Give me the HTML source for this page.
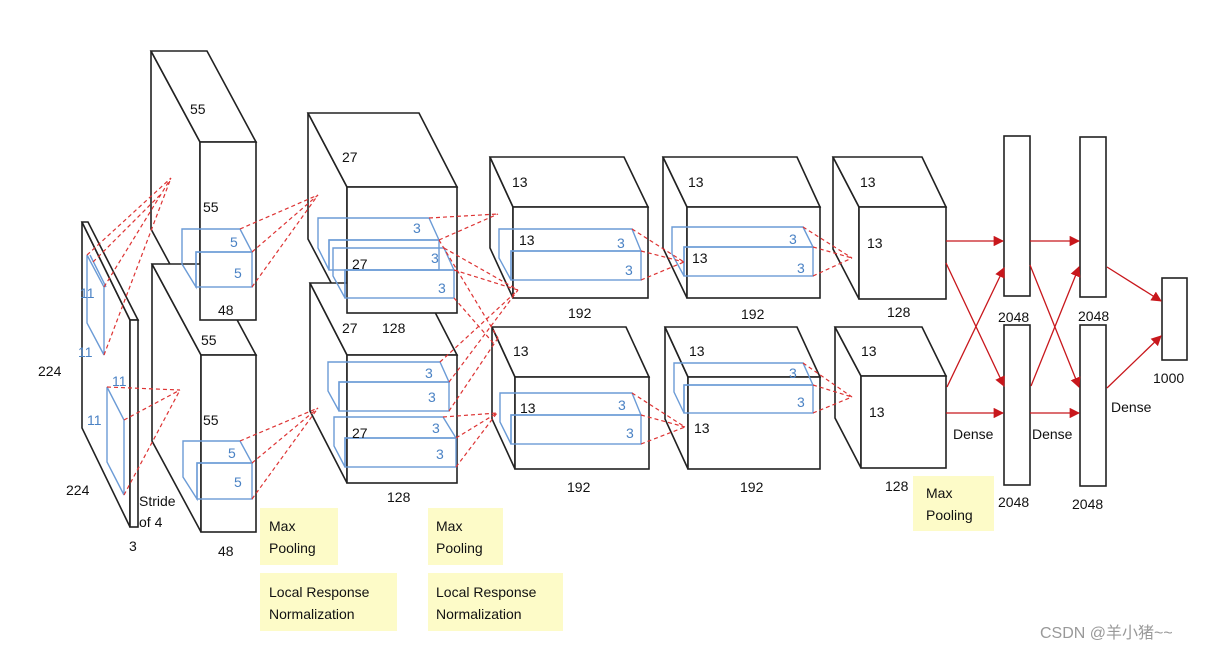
<!DOCTYPE html>
<html><head><meta charset="utf-8"><style>
html,body{margin:0;padding:0;background:#fff;}
svg{display:block;}
text{font-family:"Liberation Sans",sans-serif;font-size:14px;fill:#111;}
.b{fill:#4a82c4;}
.f{fill:#fff;stroke:#222;stroke-width:1.6;}
.k{fill:none;stroke:#6b9bd6;stroke-width:1.4;}
.r{stroke:#d33;stroke-width:1.2;stroke-dasharray:4,3;fill:none;}
.a{stroke:#c8171c;stroke-width:1.3;fill:none;marker-end:url(#ar);}
.y{fill:#fdfbc8;}
</style></head><body>
<svg width="1231" height="651" viewBox="0 0 1231 651" xmlns="http://www.w3.org/2000/svg">
<defs><marker id="ar" viewBox="0 0 10 10" refX="9" refY="5" markerWidth="8" markerHeight="8" orient="auto"><path d="M0,0 L10,5 L0,10 z" fill="#c8171c"/></marker></defs>

<!-- input slab -->
<polygon class="f" points="82,222 130,320 130,527 82,428"/>
<polygon class="f" points="82,222 88,222 138,320 130,320"/>
<rect class="f" x="130" y="320" width="8" height="207"/>
<!-- input kernels -->
<polygon class="k" points="87,255 104,287 104,355 87,323"/>
<line class="k" x1="90" y1="255" x2="106" y2="287"/>
<polygon class="k" points="107,387 124,420 124,495 107,462"/>
<text class="b" x="80" y="298">11</text><text class="b" x="78" y="357">11</text>
<text class="b" x="112" y="386">11</text><text class="b" x="87" y="425">11</text>

<!-- conv1 -->
<polygon class="f" points="151,51 200,142 200,320 151,229"/>
<polygon class="f" points="151,51 207,51 256,142 200,142"/>
<polygon class="f" points="152,264 201,355 201,532 152,441"/>
<polygon class="f" points="152,264 207,264 256,355 201,355"/>
<rect class="f" x="200" y="142" width="56" height="178"/>
<rect class="f" x="201" y="355" width="55" height="177"/>
<polygon class="k" points="182,229 240,229 252,252 196,252 196,287 182,264"/>
<rect class="k" x="196" y="252" width="56" height="35"/>
<polygon class="k" points="183,441 240,441 252,463 197,463 197,499 183,477"/>
<rect class="k" x="197" y="463" width="55" height="36"/>
<text class="b" x="230" y="247">5</text><text class="b" x="234" y="278">5</text>
<text class="b" x="228" y="458">5</text><text class="b" x="234" y="487">5</text>

<!-- conv2 -->
<polygon class="f" points="308,113 347,187 347,313 308,239"/>
<polygon class="f" points="308,113 419,113 457,187 347,187"/>
<polygon class="f" points="310,283 347,355 347,483 310,411"/>
<polygon class="f" points="310,283 420,283 457,355 347,355"/>
<rect class="f" x="347" y="187" width="110" height="126"/>
<rect class="f" x="347" y="355" width="110" height="128"/>
<polygon class="k" points="318,218 429,218 439,240 329,240 329,270 318,248"/>
<rect class="k" x="329" y="240" width="110" height="30"/>
<polygon class="k" points="333,248 444,248 454,270 345,270 345,298 333,276"/>
<rect class="k" x="345" y="270" width="109" height="28"/>
<polygon class="k" points="328,362 440,362 449,382 339,382 339,411 328,391"/>
<rect class="k" x="339" y="382" width="110" height="29"/>
<polygon class="k" points="334,417 443,417 456,438 345,438 345,467 334,446"/>
<rect class="k" x="345" y="438" width="111" height="29"/>
<text class="b" x="413" y="233">3</text><text class="b" x="431" y="263">3</text><text class="b" x="438" y="293">3</text>
<text class="b" x="425" y="378">3</text><text class="b" x="428" y="402">3</text><text class="b" x="432" y="433">3</text><text class="b" x="436" y="459">3</text>

<!-- conv3 -->
<polygon class="f" points="490,157 513,207 513,298 490,248"/>
<polygon class="f" points="490,157 624,157 648,207 513,207"/>
<rect class="f" x="513" y="207" width="135" height="91"/>
<polygon class="f" points="492,327 515,377 515,469 492,419"/>
<polygon class="f" points="492,327 626,327 649,377 515,377"/>
<rect class="f" x="515" y="377" width="134" height="92"/>
<polygon class="k" points="499,229 632,229 641,251 511,251 511,280 499,258"/>
<rect class="k" x="511" y="251" width="130" height="29"/>
<polygon class="k" points="500,393 632,393 641,415 511,415 511,444 500,422"/>
<rect class="k" x="511" y="415" width="130" height="29"/>
<text class="b" x="617" y="248">3</text><text class="b" x="625" y="275">3</text>
<text class="b" x="618" y="410">3</text><text class="b" x="626" y="438">3</text>

<!-- conv4 -->
<polygon class="f" points="663,157 687,207 687,298 663,248"/>
<polygon class="f" points="663,157 797,157 820,207 687,207"/>
<rect class="f" x="687" y="207" width="133" height="91"/>
<polygon class="f" points="665,327 688,377 688,469 665,419"/>
<polygon class="f" points="665,327 797,327 820,377 688,377"/>
<rect class="f" x="688" y="377" width="132" height="92"/>
<polygon class="k" points="672,227 803,227 813,247 684,247 684,276 672,254"/>
<rect class="k" x="684" y="247" width="129" height="29"/>
<polygon class="k" points="674,363 803,363 813,385 684,385 684,413 674,392"/>
<rect class="k" x="684" y="385" width="129" height="28"/>
<text class="b" x="789" y="244">3</text><text class="b" x="797" y="273">3</text>
<text class="b" x="789" y="378">3</text><text class="b" x="797" y="407">3</text>

<!-- conv5 -->
<polygon class="f" points="833,157 859,207 859,299 833,249"/>
<polygon class="f" points="833,157 922,157 946,207 859,207"/>
<rect class="f" x="859" y="207" width="87" height="92"/>
<polygon class="f" points="835,327 861,376 861,468 835,418"/>
<polygon class="f" points="835,327 922,327 946,376 861,376"/>
<rect class="f" x="861" y="376" width="85" height="92"/>

<!-- dense -->
<rect class="f" x="1004" y="136" width="26" height="160"/>
<rect class="f" x="1004" y="325" width="26" height="160"/>
<rect class="f" x="1080" y="137" width="26" height="160"/>
<rect class="f" x="1080" y="325" width="26" height="161"/>
<rect class="f" x="1162" y="278" width="25" height="82"/>

<!-- red dashed -->
<g class="r">
<path d="M87,255 L171,178 M104,287 L171,178 M104,355 L171,178 M93,262 L160,195"/>
<path d="M107,387 L180,390 M124,420 L180,390 M124,495 L180,390"/>
<path d="M240,229 L318,195 M252,252 L318,195 M252,287 L318,195"/>
<path d="M240,441 L318,408 M252,463 L318,408 M252,499 L318,408"/>
<path d="M429,218 L498,214 M439,240 L498,214 M444,248 L518,290 M454,270 L518,290 M454,298 L495,345 M439,240 L498,338"/>
<path d="M440,362 L518,290 M449,382 L518,290 M443,417 L497,413 M456,438 L497,413 M456,467 L497,413 M449,411 L498,338"/>
<path d="M632,229 L684,262 M641,251 L684,262 M641,280 L684,262"/>
<path d="M632,393 L685,427 M641,415 L685,427 M641,444 L685,427"/>
<path d="M803,227 L852,258 M813,247 L852,258 M813,276 L852,258"/>
<path d="M803,363 L852,397 M813,385 L852,397 M813,413 L852,397"/>
</g>

<!-- red arrows -->
<path class="a" d="M946,241 L1003,241"/>
<path class="a" d="M946,263 L1004,386"/>
<path class="a" d="M947,387 L1004,268"/>
<path class="a" d="M946,413 L1003,413"/>
<path class="a" d="M1030,241 L1079,241"/>
<path class="a" d="M1030,265 L1079,387"/>
<path class="a" d="M1031,386 L1079,267"/>
<path class="a" d="M1030,413 L1079,413"/>
<path class="a" d="M1107,267 L1161,301"/>
<path class="a" d="M1107,388 L1161,336"/>

<!-- yellow boxes -->
<rect class="y" x="260" y="508" width="78" height="57"/>
<rect class="y" x="260" y="573" width="137" height="58"/>
<rect class="y" x="428" y="508" width="75" height="57"/>
<rect class="y" x="428" y="573" width="135" height="58"/>
<rect class="y" x="913" y="476" width="81" height="55"/>
<g style="font-size:15px">
<text x="269" y="531">Max</text><text x="269" y="553">Pooling</text>
<text x="269" y="597">Local Response</text><text x="269" y="619">Normalization</text>
<text x="436" y="531">Max</text><text x="436" y="553">Pooling</text>
<text x="436" y="597">Local Response</text><text x="436" y="619">Normalization</text>
<text x="926" y="498">Max</text><text x="926" y="520">Pooling</text>
</g>

<!-- black labels -->
<text x="190" y="114">55</text><text x="203" y="212">55</text><text x="218" y="315">48</text>
<text x="201" y="345">55</text><text x="203" y="425">55</text><text x="218" y="556">48</text>
<text x="38" y="376">224</text><text x="66" y="495">224</text><text x="129" y="551">3</text>
<text x="139" y="506">Stride</text><text x="139" y="527">of 4</text>
<text x="342" y="162">27</text><text x="342" y="333">27</text><text x="382" y="333">128</text>
<text x="352" y="269">27</text><text x="352" y="438">27</text><text x="387" y="502">128</text>
<text x="512" y="187">13</text><text x="519" y="245">13</text><text x="568" y="318">192</text>
<text x="513" y="356">13</text><text x="520" y="413">13</text><text x="567" y="492">192</text>
<text x="688" y="187">13</text><text x="692" y="263">13</text><text x="741" y="319">192</text>
<text x="689" y="356">13</text><text x="694" y="433">13</text><text x="740" y="492">192</text>
<text x="860" y="187">13</text><text x="867" y="248">13</text><text x="887" y="317">128</text>
<text x="861" y="356">13</text><text x="869" y="417">13</text><text x="885" y="491">128</text>
<g style="font-size:14px">
<text x="998" y="322">2048</text><text x="1078" y="321">2048</text>
<text x="998" y="507">2048</text><text x="1072" y="509">2048</text>
<text x="1153" y="383">1000</text>
<text x="953" y="439">Dense</text><text x="1032" y="439">Dense</text><text x="1111" y="412">Dense</text>
</g>
<text x="1040" y="638" style="font-size:16px;fill:#999;font-family:'Liberation Sans','Noto Sans CJK SC',sans-serif">CSDN @羊小猪~~</text>
</svg>
</body></html>
